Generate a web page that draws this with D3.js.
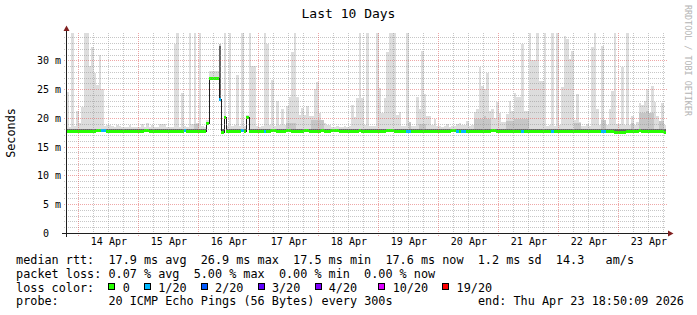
<!DOCTYPE html>
<html>
<head>
<meta charset="utf-8">
<script src="https://cdn.jsdelivr.net/npm/d3@7"></script>
<style>
  body { margin: 0; background: #fff; }
  svg { display: block; }
  text { font-family: "DejaVu Sans Mono", monospace; white-space: pre; }
</style>
</head>
<body>
<svg width="697" height="315"></svg>
<script>
const svg = d3.select('svg')
const w = +svg.attr('width'), h = +svg.attr('height')

// time window of the graph (UTC) and the hourly consolidated rows
const start = Date.UTC(2026, 3, 13, 18, 50, 9)
const end = Date.UTC(2026, 3, 23, 18, 50, 9)
const firstRow = Date.UTC(2026, 3, 13, 19, 0, 0)
const rowStep = 3600 * 1000

// median rtt per hour (ms)
const median = [
  17.8,17.8,17.8,17.8,17.7,17.7,17.7,17.7,17.7,17.8,17.8,17.8,17.9,17.9,17.9,17.9,17.8,17.8,17.8,17.8,
  17.8,17.8,17.7,17.7,17.8,17.8,17.8,17.8,17.8,17.8,17.8,17.9,17.9,17.8,17.8,17.8,17.8,17.7,17.7,17.8,
  17.8,17.8,17.8,17.8,17.8,17.8,17.8,17.9,17.8,17.8,17.8,17.8,17.8,17.8,17.8,17.7,19.2,26.9,26.9,26.9,
  26.9,23.3,17.5,20.1,17.8,17.8,17.8,17.8,17.8,17.8,17.9,17.8,20.2,17.8,17.8,17.8,17.7,17.7,17.8,17.8,
  17.8,17.8,17.9,17.9,17.8,17.8,17.8,17.8,17.9,17.9,17.8,17.8,17.8,17.8,17.8,17.9,17.9,17.8,17.8,17.8,
  17.8,17.8,17.9,17.8,17.8,17.8,17.9,17.9,17.9,17.8,17.8,17.8,17.8,17.8,17.8,17.8,17.8,17.9,17.8,17.8,
  17.8,17.8,17.8,17.8,17.8,17.8,17.8,17.8,17.9,17.9,17.9,17.8,17.8,17.8,17.8,17.8,17.7,17.8,17.8,17.8,
  17.8,17.8,17.8,17.7,17.7,17.8,17.8,17.8,17.8,17.8,17.8,17.8,17.8,17.8,17.9,17.9,17.8,17.8,17.8,17.8,
  17.8,17.8,17.7,17.7,17.8,17.8,17.8,17.8,17.8,17.8,17.9,17.9,17.8,17.8,17.7,17.8,17.8,17.8,17.8,17.8,
  17.8,17.8,17.8,17.8,17.7,17.7,17.8,17.8,17.8,17.8,17.8,17.8,17.7,17.7,17.7,17.7,17.8,17.8,17.8,17.8,
  17.8,17.8,17.8,17.8,17.8,17.7,17.7,17.7,17.8,17.8,17.8,17.8,17.8,17.8,17.8,17.8,17.8,17.7,17.7,17.6,
  17.6,17.6,17.6,17.6,17.7,17.8,17.8,17.8,17.8,17.9,17.8,17.8,17.8,17.8,17.8,17.8,17.7,17.7,17.7,17.6
]

// top of the light smoke (highest pings, ms)
const pingMax = [
  24.6,18.5,35,18.6,21.2,19.2,21.9,35,35,29.1,32.3,27.8,25.8,30.9,25.1,18.6,18.7,18.7,18.6,18.5,
  18.7,18.6,18.4,18.4,18.5,18.7,18.5,18.4,18.4,18.5,19.0,18.5,19.2,18.5,18.8,18.5,18.4,18.9,18.9,18.9,
  18.4,18.4,18.5,32.9,35,18.5,24.4,18.6,18.5,35,19.0,35,19.1,35,18.6,18.4,19.6,28.1,28.1,28.1,
  28.1,32.9,18.0,35,18.6,35,18.6,18.7,27.5,18.6,35,18.6,20.6,35,29.0,29.0,18.6,18.5,18.6,35,
  32.9,18.7,26.6,18.6,23.0,18.7,21.6,18.7,22.1,23.6,31.4,35,23.6,20.5,21.8,20.5,22.1,20.4,20.4,25.0,
  26.2,20.9,19.2,19.2,18.8,18.8,18.5,18.5,18.6,18.5,18.5,18.6,18.5,18.6,22.2,20.2,23.4,35,23.4,18.7,
  35,18.6,18.6,18.6,35,25.3,20.9,23.4,31.5,35,35,35,20.5,21.1,18.6,18.6,35,19.3,18.6,18.6,
  23.7,21.6,31.7,24.1,20.3,20.3,18.8,19.8,18.6,18.6,18.5,18.6,18.9,18.5,18.6,18.6,18.9,19.2,18.7,18.7,
  19.5,18.6,18.7,21.1,21.6,28.8,25.6,25.0,27.9,21.2,21.6,20.0,22.7,20.9,19.3,19.3,20.7,22.9,21.2,24.4,
  23.6,23.6,32.9,21.2,21.2,35,30.0,30.0,35,26.5,26.5,35,18.6,18.7,35,18.6,35,18.7,25.4,34.3,
  33.7,30.3,31.7,19.7,24.1,19.3,18.6,18.6,18.9,18.6,32.3,35,21.6,18.7,32.5,19.7,18.7,21.6,24.7,35,
  19.0,19.0,28.8,18.7,35,18.7,20.4,18.7,19.3,22.6,22.2,22.9,25.1,20.3,25.6,22.8,20.3,18.9,22.6,18.7
]

// top of the medium smoke (ms)
const pingMid = [
  18.1,18.1,18.1,18.1,18.1,18.1,18.1,18.1,18.1,18.1,18.1,18.1,18.1,18.1,18.1,18.1,18.1,18.1,18.1,18.1,
  18.1,18.1,18.1,18.1,18.1,18.1,18.1,18.1,18.1,18.1,18.1,18.1,18.1,18.1,18.1,18.1,18.1,18.1,18.1,18.1,
  18.1,18.1,18.1,18.1,18.1,18.1,18.1,18.1,18.1,18.1,18.1,19.0,18.9,18.1,18.1,18.1,18.1,18.1,18.1,18.1,
  18.1,32.9,18.1,18.1,18.1,18.1,18.1,18.1,18.1,18.1,18.1,18.1,18.1,18.1,18.1,18.1,18.1,18.1,18.1,18.1,
  18.1,18.1,18.1,18.1,18.1,18.1,18.1,18.1,19.2,19.2,19.2,19.2,18.1,18.1,18.1,18.1,18.1,18.1,19.6,19.6,
  19.6,19.6,19.6,18.1,18.1,18.1,18.1,18.1,18.1,18.1,18.1,18.1,18.1,18.1,18.1,18.1,18.1,18.1,18.1,18.1,
  18.1,18.1,18.1,18.1,18.1,18.1,18.1,18.1,18.1,18.1,18.1,18.1,18.1,18.1,18.1,18.1,18.1,19.3,18.1,18.1,
  18.1,19.0,19.0,19.0,18.1,18.1,18.1,18.1,18.1,18.1,18.1,18.1,18.1,18.1,18.1,18.1,18.1,18.1,18.1,18.1,
  18.1,18.1,18.1,19.8,19.8,19.8,19.8,20.3,19.8,19.8,18.1,18.1,18.1,18.1,18.1,18.1,19.5,19.5,19.5,19.8,
  19.8,19.8,19.8,19.8,19.8,18.1,18.1,18.1,18.1,18.1,18.1,18.1,18.1,18.1,18.1,18.1,18.1,18.1,18.1,18.1,
  18.1,18.1,18.1,19.2,19.2,19.2,18.1,18.1,18.1,18.1,18.1,18.1,18.1,18.1,19.6,19.6,18.1,18.1,18.1,18.1,
  18.1,18.1,18.1,18.1,18.1,18.1,19.2,18.1,18.1,20.8,20.8,20.8,21.3,20.8,20.8,18.1,18.1,19.5,19.5,18.1
]

// top of the dark smoke core (ms)
const pingDark = [
  18.0,18.0,18.0,18.0,18.0,18.0,18.0,18.0,18.0,18.0,18.0,18.0,18.0,18.0,18.0,18.0,18.0,18.0,18.0,18.0,
  18.0,18.0,18.0,18.0,18.0,18.0,18.0,18.0,18.0,18.0,18.0,18.0,18.0,18.0,18.0,18.0,18.0,18.0,18.0,18.0,
  18.0,18.0,18.0,18.0,18.0,18.0,18.0,18.0,18.0,18.0,18.0,18.0,18.0,18.0,18.0,18.0,18.0,18.0,18.0,18.0,
  18.0,32.6,18.0,18.0,18.0,18.0,18.0,18.0,18.0,18.0,18.0,18.0,18.0,18.0,18.0,18.0,18.0,18.0,18.0,18.0,
  18.0,18.0,18.0,18.0,18.0,18.0,18.0,18.0,18.0,18.0,18.0,18.0,18.0,18.0,18.0,18.0,18.0,18.0,18.0,18.0,
  18.0,18.0,18.0,18.0,18.0,18.0,18.0,18.0,18.0,18.0,18.0,18.0,18.0,18.0,18.0,18.0,18.0,18.0,18.0,18.0,
  18.0,18.0,18.0,18.0,18.0,18.0,18.0,18.0,18.0,18.0,18.0,18.0,18.0,18.0,18.0,18.0,18.0,18.0,18.0,18.0,
  18.0,18.0,18.0,18.0,18.0,18.0,18.0,18.0,18.0,18.0,18.0,18.0,18.0,18.0,18.0,18.0,18.0,18.0,18.0,18.0,
  18.0,18.0,18.0,18.0,18.0,18.0,18.0,18.0,18.0,18.0,18.0,18.0,18.0,18.0,18.0,18.0,18.0,18.0,18.0,18.0,
  18.0,18.0,18.0,18.0,18.0,18.0,18.0,18.0,18.0,18.0,18.0,18.0,18.0,18.0,18.0,18.0,18.0,18.0,18.0,18.0,
  18.0,18.0,18.0,18.0,18.0,18.0,18.0,18.0,18.0,18.0,18.0,18.0,18.0,18.0,18.0,18.0,18.0,18.0,18.0,18.0,
  18.0,18.0,18.0,18.0,18.0,18.0,18.0,18.0,18.0,18.0,18.0,18.0,18.0,18.0,18.0,18.0,18.0,18.0,18.0,18.0
]

// lost pings per hour (of 20)
const loss = [
  0,0,0,0,0,0,0,0,0,0,0,0,0,0,1,1,0,0,0,0,
  0,0,0,0,0,0,0,0,0,0,0,0,0,0,0,0,0,0,0,0,
  0,0,0,0,0,0,0,1,0,0,0,0,0,0,0,0,0,0,0,0,
  0,1,0,0,0,0,0,0,0,0,1,0,0,0,0,0,0,0,0,1,
  0,0,0,0,0,0,0,0,0,0,0,0,0,0,0,0,0,0,0,0,
  0,0,0,0,0,0,0,0,0,0,0,0,0,0,0,0,0,0,0,0,
  0,0,0,0,0,0,0,0,0,0,0,0,0,0,0,0,1,1,0,0,
  0,0,0,0,0,0,0,0,0,0,0,0,0,0,0,0,1,0,1,1,
  0,0,0,0,0,0,0,0,0,0,0,0,0,0,0,0,0,0,0,0,
  0,0,1,0,0,0,0,0,0,0,0,0,0,0,1,0,0,0,0,0,
  0,0,0,0,0,0,0,0,0,0,0,0,0,0,1,1,0,0,0,0,
  0,0,0,0,0,0,0,0,0,0,0,0,0,0,0,0,0,0,0,0
]

const lossLevels = [0, 1, 2, 3, 4, 10, 19]
const lossLabels = ['0', '1/20', '2/20', '3/20', '4/20', '10/20', '19/20']
const lossColors = ['#26ff00', '#00b8ff', '#0059ff', '#5e00ff', '#7e00ff', '#dd00ff', '#ff0000']
const lossGaps = [2, 2, 2, 2, 3, 2]

const yTicks = [0, 5, 10, 15, 20, 25, 30]
const yMax = 34.78

const rttStats = ['17.9 ms avg', '26.9 ms max', '17.5 ms min', '17.6 ms now', '1.2 ms sd', '14.3   am/s']
const lossStats = ['0.07 % avg', '5.00 % max', '0.00 % min', '0.00 % now']
const probeText = '20 ICMP Echo Pings (56 Bytes) every 300s'
const endText = 'end: Thu Apr 23 18:50:09 2026'

// plot geometry (rrdtool style)
const x0 = 66, x1 = 666, y0 = 233, y1 = 33

const xScale = d3.scaleUtc().domain([start, end]).range([x0, x1])
const yScale = d3.scaleLinear().domain([0, yMax]).range([y0, y1])

const rows = median.map((m, i) => ({
  t0: firstRow + i * rowStep,
  t1: firstRow + (i + 1) * rowStep,
  m, max: pingMax[i], mid: pingMid[i], dark: pingDark[i], loss: loss[i]
}))

const px = t => Math.round(Math.min(x1, Math.max(x0, xScale(t))))
const py = v => Math.round(Math.max(y1, yScale(v)))

// clip for the data
svg.append('clipPath').attr('id', 'plot')
  .append('rect').attr('x', x0).attr('y', y1).attr('width', x1 - x0).attr('height', y0 - y1)

const data = svg.append('g').attr('clip-path', 'url(#plot)')

// smoke: light, medium, dark
const smoke = [
  { key: 'max', color: '#dddddd' },
  { key: 'mid', color: '#c6c6c6' },
  { key: 'dark', color: '#666666' }
]
smoke.forEach(s => {
  data.append('g').attr('shape-rendering', 'crispEdges')
    .selectAll('rect')
    .data(rows.filter(d => d[s.key] > d.m))
    .enter()
    .append('rect')
      .attr('x', d => px(d.t0))
      .attr('width', d => px(d.t1) - px(d.t0))
      .attr('y', d => py(d[s.key]))
      .attr('height', d => Math.max(0, py(d.m) - py(d[s.key])))
      .attr('fill', s.color)
})

// thin median line (shows the jumps)
const stepPts = rows.concat([{ ...rows[rows.length - 1], t0: rows[rows.length - 1].t1 }])
data.append('path')
  .datum(stepPts)
  .attr('d', d3.line()
    .x(d => px(d.t0) + 0.5)
    .y(d => py(d.m) + 0.5)
    .curve(d3.curveStepAfter))
  .attr('fill', 'none')
  .attr('stroke', '#202020')
  .attr('stroke-width', 1)
  .attr('shape-rendering', 'crispEdges')

// median band coloured by loss
const lossColor = n => {
  let c = lossColors[0]
  lossLevels.forEach((l, i) => { if (n >= l) c = lossColors[i] })
  return c
}
data.append('g').attr('shape-rendering', 'crispEdges')
  .selectAll('rect')
  .data(rows)
  .enter()
  .append('rect')
    .attr('x', d => px(d.t0))
    .attr('width', d => px(d.t1) - px(d.t0))
    .attr('y', d => py(d.m) - 1)
    .attr('height', 3)
    .attr('fill', d => lossColor(d.loss))

// grid (drawn over the graph like rrdtool does)
const grid = svg.append('g').attr('shape-rendering', 'crispEdges')
const minorCol = 'rgba(143,143,143,0.5)', majorCol = 'rgba(222,79,79,0.5)'

d3.range(1, Math.floor(yMax) + 1).forEach(v => {
  const major = v % 5 === 0
  const y = Math.round(yScale(v)) + 0.5
  grid.append('line')
    .attr('x1', x0 - 2).attr('x2', major ? x1 + 2 : x1)
    .attr('y1', y).attr('y2', y)
    .attr('stroke', major ? majorCol : minorCol)
    .attr('stroke-dasharray', '1,1')
})

d3.utcHour.every(6).range(start, end).forEach(t => {
  const major = t.getUTCHours() === 0
  const x = Math.round(xScale(t)) - 0.5
  grid.append('line')
    .attr('x1', x).attr('x2', x)
    .attr('y1', y1).attr('y2', y0 + (major ? 3 : 2))
    .attr('stroke', major ? majorCol : minorCol)
    .attr('stroke-dasharray', '1,1')
})

// axes and arrows
const axisCol = '#1f1f1f', arrowCol = '#802020'
svg.append('line')
  .attr('x1', x0 - 4).attr('x2', x1 + 4)
  .attr('y1', y0 + 0.5).attr('y2', y0 + 0.5)
  .attr('stroke', axisCol).attr('shape-rendering', 'crispEdges')
svg.append('line')
  .attr('x1', x0 + 0.5).attr('x2', x0 + 0.5)
  .attr('y1', y0 + 4).attr('y2', y1 - 4)
  .attr('stroke', axisCol).attr('shape-rendering', 'crispEdges')
svg.append('path')
  .attr('d', `M${x1 + 2},${y0 - 2.5}L${x1 + 2},${y0 + 3.5}L${x1 + 7.5},${y0 + 0.5}Z`)
  .attr('fill', arrowCol)
svg.append('path')
  .attr('d', `M${x0 - 2.5},${y1 - 2}L${x0 + 3.5},${y1 - 2}L${x0 + 0.5},${y1 - 7.5}Z`)
  .attr('fill', arrowCol)

// y labels
svg.append('g').selectAll('text')
  .data(yTicks)
  .enter()
  .append('text')
    .attr('x', x0 - 5)
    .attr('y', d => Math.round(yScale(d)) + 0.5)
    .attr('dy', '0.36em')
    .attr('text-anchor', 'end')
    .attr('font-size', 10)
    .text(d => d === 0 ? '0  ' : d + ' m')

// x labels at noon
svg.append('g').selectAll('text')
  .data(d3.utcDay.range(start, end))
  .enter()
  .append('text')
    .attr('x', d => xScale(+d + 12 * 3600 * 1000))
    .attr('y', 245)
    .attr('text-anchor', 'middle')
    .attr('font-size', 10)
    .text(d3.utcFormat('%d %b'))

// title, y title, watermark
svg.append('text')
  .attr('x', w / 2).attr('y', 18)
  .attr('text-anchor', 'middle')
  .attr('font-size', 13)
  .text('Last 10 Days')

svg.append('text')
  .attr('transform', `translate(15,${(y0 + y1) / 2}) rotate(-90)`)
  .attr('text-anchor', 'middle')
  .attr('font-size', 11.8)
  .text('Seconds')

svg.append('text')
  .attr('transform', 'translate(684.5,5) rotate(90)')
  .attr('font-size', 8.4)
  .attr('fill', '#b4b4b4')
  .text('RRDTOOL / TOBI OETIKER')

// legend
const charW = 7.105, legX = 16.1, legY = 264, lineH = 13.8, legFont = 11.8
const legText = (col, row, str) => svg.append('text')
  .attr('x', legX + col * charW)
  .attr('y', legY + row * lineH)
  .attr('font-size', legFont)
  .text(str)

legText(0, 0, 'median rtt:  ' + rttStats.join('  '))
legText(0, 1, 'packet loss: ' + lossStats.join('  '))
legText(0, 2, 'loss color:')
let col = 13
lossLabels.forEach((lab, i) => {
  svg.append('rect')
    .attr('x', Math.round(legX + col * charW) + 0.5)
    .attr('y', legY + 2 * lineH - 8.3)
    .attr('width', 6).attr('height', 6)
    .attr('fill', lossColors[i])
    .attr('stroke', '#000')
    .attr('shape-rendering', 'crispEdges')
  legText(col + 2, 2, lab)
  col += 2 + lab.length + (lossGaps[i] || 0)
})
legText(0, 3, 'probe:')
legText(13, 3, probeText)
svg.append('text')
  .attr('x', legX + 94 * charW)
  .attr('y', legY + 3 * lineH)
  .attr('text-anchor', 'end')
  .attr('font-size', legFont)
  .text(endText)
</script>
</body>
</html>
